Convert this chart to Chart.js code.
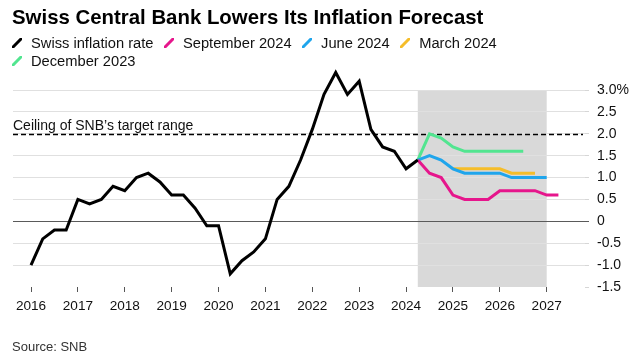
<!DOCTYPE html>
<html>
<head>
<meta charset="utf-8">
<script src="https://cdn.jsdelivr.net/npm/chart.js@4.4.1/dist/chart.umd.min.js"></script>
<style>
  body { margin: 0; background: #fff; font-family: "Liberation Sans", Arial, sans-serif; color: #111; }
  #wrap { position: relative; width: 637px; height: 359px; overflow: hidden; }
  #chart { position: absolute; left: 0; top: 0; }
  h1 { position: absolute; left: 12px; top: 7px; margin: 0; font-size: 20.4px; line-height: 20px; font-weight: bold; color: #000; }
  #legend { position: absolute; left: 12px; top: 34px; width: 560px; font-size: 14.7px; line-height: 18px; }
  .item { display: inline-block; margin-right: 10.5px; white-space: nowrap; }
  .item svg { margin-right: 9px; }
  #source { position: absolute; left: 12px; top: 340px; font-size: 13px; line-height: 13px; color: #333; }
</style>
</head>
<body>
<div id="wrap">
  <canvas id="chart" width="637" height="359"></canvas>
  <h1>Swiss Central Bank Lowers Its Inflation Forecast</h1>
  <div id="legend"></div>
  <div id="source">Source: SNB</div>
</div>
<script>
// quarterly x positions (decimal years), 2016 Q1 .. 2027 Q2
const quarters = [
  2016, 2016.25, 2016.5, 2016.75, 2017, 2017.25, 2017.5, 2017.75,
  2018, 2018.25, 2018.5, 2018.75, 2019, 2019.25, 2019.5, 2019.75,
  2020, 2020.25, 2020.5, 2020.75, 2021, 2021.25, 2021.5, 2021.75,
  2022, 2022.25, 2022.5, 2022.75, 2023, 2023.25, 2023.5, 2023.75,
  2024, 2024.25, 2024.5, 2024.75, 2025, 2025.25, 2025.5, 2025.75,
  2026, 2026.25, 2026.5, 2026.75, 2027, 2027.25
];

const inflation = [
  -1.0, -0.4, -0.2, -0.2, 0.5, 0.4, 0.5, 0.8,
  0.7, 1.0, 1.1, 0.9, 0.6, 0.6, 0.3, -0.1,
  -0.1, -1.2, -0.9, -0.7, -0.4, 0.5, 0.8, 1.4,
  2.1, 2.9, 3.4, 2.9, 3.2, 2.1, 1.7, 1.6,
  1.2, 1.4, null, null, null, null, null, null,
  null, null, null, null, null, null
];
const sep2024 = [
  null, null, null, null, null, null, null, null,
  null, null, null, null, null, null, null, null,
  null, null, null, null, null, null, null, null,
  null, null, null, null, null, null, null, null,
  null, 1.4, 1.1, 1.0, 0.6, 0.5, 0.5, 0.5,
  0.7, 0.7, 0.7, 0.7, 0.6, 0.6
];
const jun2024 = [
  null, null, null, null, null, null, null, null,
  null, null, null, null, null, null, null, null,
  null, null, null, null, null, null, null, null,
  null, null, null, null, null, null, null, null,
  null, 1.4, 1.5, 1.4, 1.2, 1.1, 1.1, 1.1,
  1.1, 1.0, 1.0, 1.0, 1.0, null
];
const mar2024 = [
  null, null, null, null, null, null, null, null,
  null, null, null, null, null, null, null, null,
  null, null, null, null, null, null, null, null,
  null, null, null, null, null, null, null, null,
  null, null, null, null, 1.2, 1.2, 1.2, 1.2,
  1.2, 1.1, 1.1, 1.1, null, null
];
const dec2023 = [
  null, null, null, null, null, null, null, null,
  null, null, null, null, null, null, null, null,
  null, null, null, null, null, null, null, null,
  null, null, null, null, null, null, null, null,
  null, 1.4, 2.0, 1.9, 1.7, 1.6, 1.6, 1.6,
  1.6, 1.6, 1.6, null, null, null
];

const seriesNames = ['Swiss inflation rate', 'September 2024', 'June 2024', 'March 2024', 'December 2023'];
const seriesColors = ['#000000', '#e6168c', '#1fa5ec', '#f5bd2a', '#52e590'];
const seriesData = [inflation, sep2024, jun2024, mar2024, dec2023];

const xTicks = [2016, 2017, 2018, 2019, 2020, 2021, 2022, 2023, 2024, 2025, 2026, 2027];
const yTicks = [-1.5, -1, -0.5, 0, 0.5, 1, 1.5, 2, 2.5, 3];
const yTickLabels = ['-1.5', '-1.0', '-0.5', '0', '0.5', '1.0', '1.5', '2.0', '2.5', '3.0%'];

const forecastStart = 2024.25;
const forecastEnd = 2027;
const targetCeiling = 2.0;
const targetLabel = 'Ceiling of SNB\u2019s target range';

const FONT = '"Liberation Sans", Arial, sans-serif';
Chart.defaults.font.family = FONT;

// legend (html, so it wraps like the original)
const legend = document.getElementById('legend');
seriesNames.forEach((name, i) => {
    const item = document.createElement('span');
    item.className = 'item';
    item.innerHTML = '<svg width="10" height="10"><line x1="1" y1="9" x2="9" y2="1" stroke="' +
        seriesColors[i] + '" stroke-width="3" stroke-linecap="round"/></svg>' + name;
    legend.appendChild(item);
});

// shaded forecast period + dashed target line
const extras = {
    id: 'extras',
    beforeDraw(chart) {
        const {ctx, chartArea, scales} = chart;
        const x0 = scales.x.getPixelForValue(forecastStart);
        const x1 = scales.x.getPixelForValue(forecastEnd);
        ctx.save();
        ctx.fillStyle = '#d9d9d9';
        ctx.fillRect(x0, chartArea.top, x1 - x0, chartArea.bottom - chartArea.top);
        ctx.restore();
    },
    beforeDatasetsDraw(chart) {
        const {ctx, chartArea, scales} = chart;
        const yy = Math.round(scales.y.getPixelForValue(targetCeiling)) + 0.5;
        ctx.save();
        ctx.strokeStyle = '#000';
        ctx.lineWidth = 1.5;
        ctx.setLineDash([5, 3]);
        ctx.beginPath();
        ctx.moveTo(chartArea.left, yy);
        ctx.lineTo(chartArea.right - 2, yy);
        ctx.stroke();
        ctx.setLineDash([]);
        ctx.fillStyle = '#111';
        ctx.font = '14px ' + FONT;
        ctx.textBaseline = 'alphabetic';
        ctx.fillText(targetLabel, chartArea.left, yy - 5);
        ctx.restore();
    }
};

new Chart(document.getElementById('chart'), {
    type: 'line',
    data: {
        labels: quarters,
        datasets: seriesData.map((d, i) => ({
            label: seriesNames[i],
            data: d,
            borderColor: seriesColors[i],
            backgroundColor: seriesColors[i],
            borderWidth: 3,
            pointRadius: 0,
            tension: 0,
            clip: false
        }))
    },
    options: {
        responsive: false,
        animation: false,
        devicePixelRatio: 1,
        layout: { padding: { top: 90, left: 13, right: 0, bottom: 0 } },
        plugins: { legend: { display: false }, tooltip: { enabled: false } },
        scales: {
            x: {
                type: 'linear',
                min: 2015.616,
                max: 2027.817,
                afterBuildTicks: s => { s.ticks = xTicks.map(v => ({ value: v })); },
                afterFit: s => { s.height = 72; },
                grid: { drawOnChartArea: false, drawTicks: true, tickLength: 5, tickColor: '#555', color: '#555' },
                border: { display: false },
                ticks: {
                    padding: 6, color: '#111', font: { size: 13.6 },
                    maxRotation: 0, autoSkip: false,
                    callback: (v, i) => String(xTicks[i])
                }
            },
            y: {
                position: 'right',
                min: -1.5,
                max: 3,
                afterBuildTicks: s => { s.ticks = yTicks.map(v => ({ value: v })); },
                afterFit: s => { s.width = 52; },
                grid: {
                    tickLength: 4,
                    color: c => c.tick.value === 0 ? '#5a5a5a' : (c.tick.value === -1.5 ? 'rgba(0,0,0,0)' : '#e0e0e0'),
                    tickColor: c => c.tick.value === 0 ? '#5a5a5a' : '#d6d6d6'
                },
                border: { display: false },
                ticks: {
                    padding: 8, color: '#111', font: { size: 14 },
                    callback: (v, i) => yTickLabels[i]
                }
            }
        }
    },
    plugins: [extras]
});
</script>
</body>
</html>
